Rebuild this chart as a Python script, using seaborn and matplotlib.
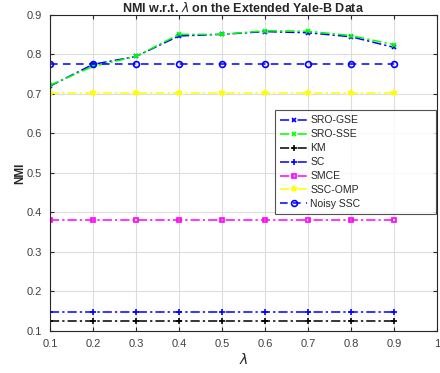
import matplotlib
matplotlib.use("Agg")
import matplotlib.pyplot as plt
import seaborn as sns
import pandas as pd

# values
lam = [0.1, 0.2, 0.3, 0.4, 0.5, 0.6, 0.7, 0.8, 0.9]
sro_gse = [0.720, 0.775, 0.795, 0.847, 0.851, 0.858, 0.855, 0.845, 0.818]
sro_sse = [0.722, 0.770, 0.795, 0.851, 0.851, 0.860, 0.859, 0.848, 0.825]
km = [0.126] * 9
sc = [0.149] * 9
smce = [0.382] * 9
ssc_omp = [0.702] * 9
noisy_ssc = [0.777] * 9

dashdot = (0, (6, 2, 1.5, 2))
series = [
    ("SRO-GSE", sro_gse, "#0000ff", "x", dashdot, 3.5),
    ("SRO-SSE", sro_sse, "#00ff00", "x", dashdot, 3.5),
    ("KM", km, "black", "+", dashdot, 5),
    ("SC", sc, "#0000ff", "+", dashdot, 5),
    ("SMCE", smce, "#ff00ff", "s", dashdot, 3.5),
    ("SSC-OMP", ssc_omp, "#ffff00", "*", dashdot, 4),
    ("Noisy SSC", noisy_ssc, "#0000ff", "o", (0, (5, 3.5)), 4.2),
]

sns.set_style("whitegrid")
plt.rcParams['font.family'] = ['Liberation Sans', 'DejaVu Sans']

fig = plt.figure(figsize=(4.4, 3.73), dpi=100)
ax = fig.add_axes([0.1136, 0.1126, 0.8795, 0.8472])

for name, vals, color, marker, ls, ms in series:
    df = pd.DataFrame({"lam": lam, "nmi": vals})
    sns.lineplot(data=df, x="lam", y="nmi", ax=ax, color=color, marker=marker,
                 linestyle=ls, linewidth=1.1, markersize=ms, label=name,
                 markerfacecolor="none" if marker in ("s", "o") else color,
                 markeredgecolor=color, markeredgewidth=1.2)

ax.set_xlim(0.1, 1.0)
ax.set_ylim(0.1, 0.9)
ax.set_xticks([0.1, 0.2, 0.3, 0.4, 0.5, 0.6, 0.7, 0.8, 0.9, 1.0])
ax.set_xticklabels(["0.1", "0.2", "0.3", "0.4", "0.5", "0.6", "0.7", "0.8", "0.9", "1"])
ax.set_yticks([0.1, 0.2, 0.3, 0.4, 0.5, 0.6, 0.7, 0.8, 0.9])
ax.tick_params(axis="both", direction="in", length=3, labelsize=8, colors="#262626",
               labelcolor="#404040", top=True, right=True, bottom=True, left=True, pad=6)
ax.grid(True, color="#dddddd", linewidth=0.8)
for s in ax.spines.values():
    s.set_color("#262626")
    s.set_linewidth(0.8)

ax.set_title(r"NMI w.r.t. $\lambda$ on the Extended Yale-B Data", fontsize=9,
             fontweight="bold", pad=2)
ax.set_xlabel(r"$\lambda$", fontsize=10, labelpad=2)
ax.set_ylabel("NMI", fontsize=8.5, fontweight="bold", labelpad=0)

leg = ax.legend(loc="upper left", bbox_to_anchor=(0.581, 0.699, 0.416, 0.0),
                mode="expand", fontsize=7.5,
                frameon=True, fancybox=False, edgecolor="#262626",
                handlelength=2.6, handletextpad=0.3, labelspacing=0.38,
                borderpad=0.5, borderaxespad=0)
leg.get_frame().set_linewidth(0.8)
leg.get_frame().set_facecolor("white")

fig.savefig("out.png", dpi=100)
